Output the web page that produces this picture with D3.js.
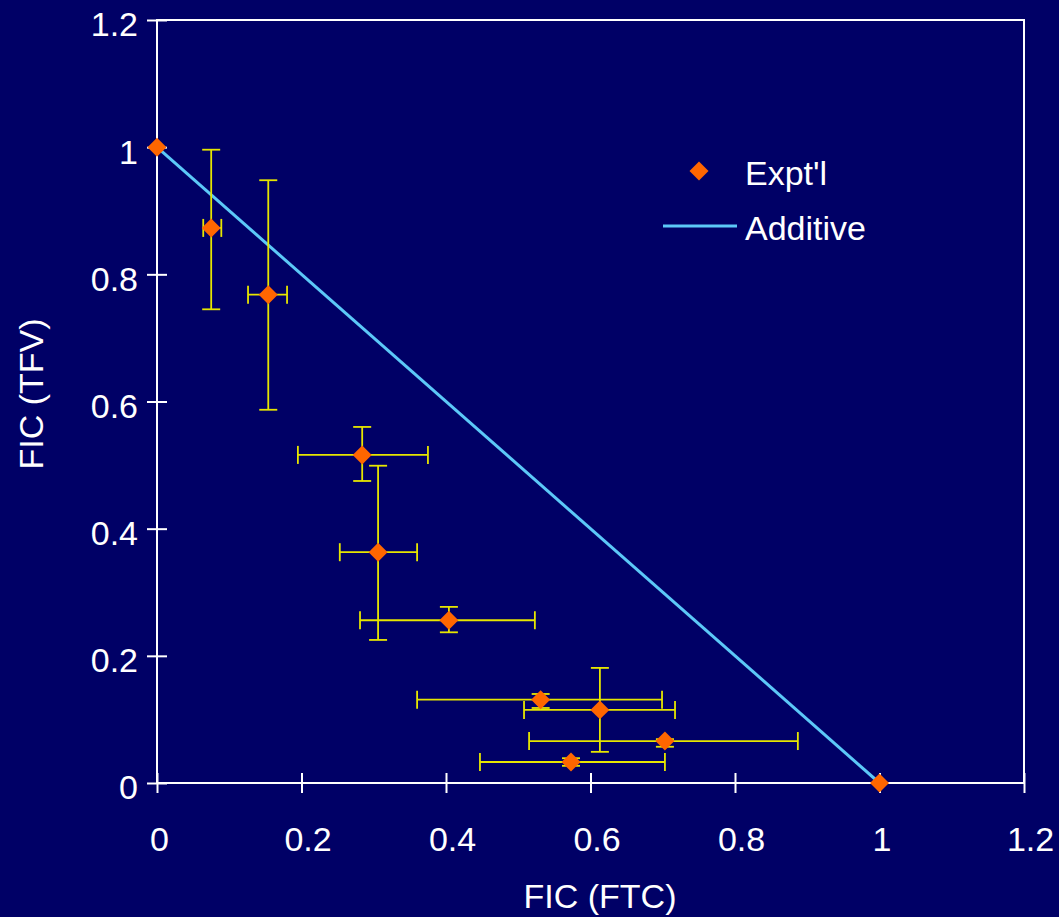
<!DOCTYPE html>
<html><head><meta charset="utf-8">
<script src="https://cdn.jsdelivr.net/npm/d3@7"></script>
<style>
html,body{margin:0;padding:0;background:#000066;}
svg{display:block;}
text{font-family:"Liberation Sans",Arial,sans-serif;}
</style></head>
<body>
<svg id="chart" width="1059" height="917"></svg>
<script>
// Data
const ftc   = [0, 0.075, 0.154, 0.284, 0.306, 0.404, 0.531, 0.613, 0.703, 0.573, 1];
const tfv   = [1, 0.873, 0.768, 0.516, 0.363, 0.256, 0.131, 0.115, 0.066, 0.033, 0];
const ftcLo = [null, 0.064, 0.126, 0.195, 0.253, 0.281, 0.360, 0.508, 0.515, 0.447, null];
const ftcHi = [null, 0.089, 0.180, 0.375, 0.360, 0.523, 0.699, 0.717, 0.887, 0.703, null];
const tfvLo = [null, 0.745, 0.587, 0.475, 0.225, 0.237, 0.118, 0.049, 0.057, 0.027, null];
const tfvHi = [null, 0.996, 0.948, 0.560, 0.499, 0.277, 0.140, 0.181, 0.069, 0.039, null];
const additiveX = [0, 1];
const additiveY = [1, 0];
const xTicks = [0, 0.2, 0.4, 0.6, 0.8, 1, 1.2];
const yTicks = [0, 0.2, 0.4, 0.6, 0.8, 1, 1.2];
const seriesNames = ["Expt'l", "Additive"];
const xTitle = "FIC (FTC)";
const yTitle = "FIC (TFV)";

const svg = d3.select("#chart");
const L = 157, T = 20, R = 1024, B = 783;
const x = d3.scaleLinear().domain([0, 1.2]).range([L, R]);
const y = d3.scaleLinear().domain([0, 1.2]).range([B, T]);

const white = "#ffffff";
// frame
svg.append("rect").attr("x", L).attr("y", T).attr("width", R - L).attr("height", B - T)
  .attr("fill", "none").attr("stroke", white).attr("stroke-width", 2);

// axes
const fmt = d3.format("~g");
const xAxis = d3.axisBottom(x).tickValues(xTicks).tickSize(10).tickFormat(fmt);
const gx = svg.append("g").attr("transform", `translate(0,${B})`).call(xAxis);
const yAxis = d3.axisLeft(y).tickValues(yTicks).tickSize(10).tickFormat(fmt);
const gy = svg.append("g").attr("transform", `translate(${L},0)`).call(yAxis);
[gx, gy].forEach(g => {
  g.select(".domain").remove();
  g.selectAll(".tick line").attr("stroke", white).attr("stroke-width", 2);
  g.selectAll(".tick text").attr("fill", white).attr("font-size", 34)
    .style("font-family", '"Liberation Sans",Arial,sans-serif');
});
gx.selectAll(".tick line").attr("y1", -10).attr("y2", 10);
gx.selectAll(".tick text").attr("y", 44).attr("dx", d => (fmt(d).includes(".") ? 6 : 2));
gy.selectAll(".tick line").attr("x1", -10).attr("x2", 10);
gy.selectAll(".tick text").attr("x", -19).attr("dy", "0.47em");

// axis titles
svg.append("text").attr("x", 600).attr("y", 908).attr("text-anchor", "middle")
  .attr("fill", white).attr("font-size", 34).text(xTitle);
svg.append("text").attr("transform", `translate(43,394) rotate(-90)`)
  .attr("text-anchor", "middle").attr("fill", white).attr("font-size", 34).text(yTitle);

// additive line
const lineGen = d3.line().x(d => x(d[0])).y(d => y(d[1]));
svg.append("path").datum(additiveX.map((v, i) => [v, additiveY[i]]))
  .attr("d", lineGen).attr("stroke", "#5cc8f8").attr("stroke-width", 3).attr("fill", "none");

// error bars
const eb = svg.append("g").attr("stroke", "#e6e600").attr("stroke-width", 1.8).attr("fill", "none");
const cap = 9;
ftc.forEach((v, i) => {
  if (tfvLo[i] !== null) {
    eb.append("line").attr("x1", x(v)).attr("x2", x(v)).attr("y1", y(tfvLo[i])).attr("y2", y(tfvHi[i]));
    eb.append("line").attr("x1", x(v) - cap).attr("x2", x(v) + cap).attr("y1", y(tfvLo[i])).attr("y2", y(tfvLo[i]));
    eb.append("line").attr("x1", x(v) - cap).attr("x2", x(v) + cap).attr("y1", y(tfvHi[i])).attr("y2", y(tfvHi[i]));
  }
  if (ftcLo[i] !== null) {
    const yy = y(tfv[i]);
    eb.append("line").attr("x1", x(ftcLo[i])).attr("x2", x(ftcHi[i])).attr("y1", yy).attr("y2", yy);
    eb.append("line").attr("x1", x(ftcLo[i])).attr("x2", x(ftcLo[i])).attr("y1", yy - cap).attr("y2", yy + cap);
    eb.append("line").attr("x1", x(ftcHi[i])).attr("x2", x(ftcHi[i])).attr("y1", yy - cap).attr("y2", yy + cap);
  }
});

// points
const diamond = d3.symbol().type(d3.symbolSquare).size(180);
svg.append("g").selectAll("path").data(ftc.map((v, i) => [v, tfv[i]])).join("path")
  .attr("d", diamond())
  .attr("transform", d => `translate(${x(d[0])},${y(d[1])}) rotate(45)`)
  .attr("fill", "#ff6600");

// legend
const lg = svg.append("g");
lg.append("path").attr("d", diamond())
  .attr("transform", "translate(699,171) rotate(45)").attr("fill", "#ff6600");
lg.append("text").attr("x", 745).attr("y", 185).attr("fill", white).attr("font-size", 34).text(seriesNames[0]);
lg.append("line").attr("x1", 663).attr("x2", 737).attr("y1", 226).attr("y2", 226)
  .attr("stroke", "#5cc8f8").attr("stroke-width", 3);
lg.append("text").attr("x", 745).attr("y", 240).attr("fill", white).attr("font-size", 34).text(seriesNames[1]);
</script>
</body></html>
